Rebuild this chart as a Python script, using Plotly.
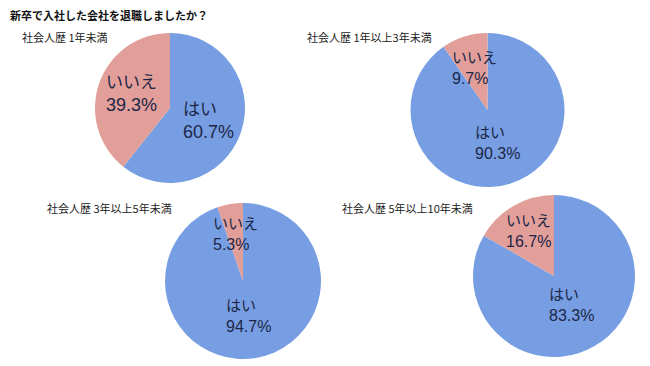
import math
import plotly.graph_objects as go

title = "新卒で入社した会社を退職しましたか？"
groups = ["社会人歴 1年未満", "社会人歴 1年以上3年未満", "社会人歴 3年以上5年未満", "社会人歴 5年以上10年未満"]
labels = ["はい", "いいえ"]
yes_pct = [60.7, 90.3, 94.7, 83.3]
no_pct = [39.3, 9.7, 5.3, 16.7]

# page body has an 8px margin; figure fills the rest of the 650x366 window
OFF = 8
W, H = 650 - OFF, 366 - OFF
# pie geometry in window pixels: center x, center y, radius
geom = [(170, 108, 75), (487.5, 110, 77), (243, 281, 78), (554, 276, 81)]
sub_pos = [(20, 37), (305, 37), (45, 208), (340, 208)]
pct_font = [18, 16, 16, 16]
kana_font = [17, 15, 15, 15]
label_r = {"はい": [0.54, 0.45, 0.45, 0.42], "いいえ": [0.55, 0.57, 0.61, 0.64]}
colors = ["#779ee2", "#e29e99"]
FONT = "Liberation Sans, Noto Sans CJK JP, sans-serif"
JFONT = "Noto Sans CJK JP, sans-serif"


def px(x):
    return (x - OFF) / W


def py(y):
    return 1 - (y - OFF) / H


fig = go.Figure()
annotations = []
for i, g in enumerate(groups):
    cx, cy, r = geom[i]
    vals = [yes_pct[i], no_pct[i]]
    fig.add_trace(go.Pie(
        labels=labels, values=vals, sort=False, direction="clockwise", rotation=0,
        marker=dict(colors=colors, line=dict(width=0)),
        textinfo="none", hoverinfo="label+percent", showlegend=False,
        domain=dict(x=[px(cx - r), px(cx + r)], y=[py(cy + r), py(cy - r)]),
    ))
    total = sum(vals)
    start = 0.0
    for lab, v in zip(labels, vals):
        mid = (start + v / 2) / total * 2 * math.pi
        start += v
        k = label_r[lab][i]
        lx = cx + k * r * math.sin(mid)
        ly = cy - k * r * math.cos(mid)
        annotations.append(dict(
            x=px(lx), y=py(ly), xref="paper", yref="paper",
            text=f"<span style='font-size:{kana_font[i]}px'>{lab}</span><br>{v:.1f}%",
            showarrow=False, align="left",
            xanchor="center", yanchor="middle",
            font=dict(family=FONT, size=pct_font[i], color="#1c2748"),
        ))
    sx, sy = sub_pos[i]
    annotations.append(dict(
        x=px(sx), y=py(sy), xref="paper", yref="paper", text=g, showarrow=False,
        xanchor="left", yanchor="middle",
        font=dict(family=JFONT, size=11, color="#222222"),
    ))

annotations.append(dict(
    x=px(8), y=py(15), xref="paper", yref="paper", text=f"<b>{title}</b>", showarrow=False,
    xanchor="left", yanchor="middle", font=dict(family=JFONT, size=11, color="#111111"),
))

fig.update_layout(
    width=W, height=H, margin=dict(l=0, r=0, t=0, b=0),
    paper_bgcolor="white", plot_bgcolor="white",
    annotations=annotations,
)
fig.write_html("out.html")
